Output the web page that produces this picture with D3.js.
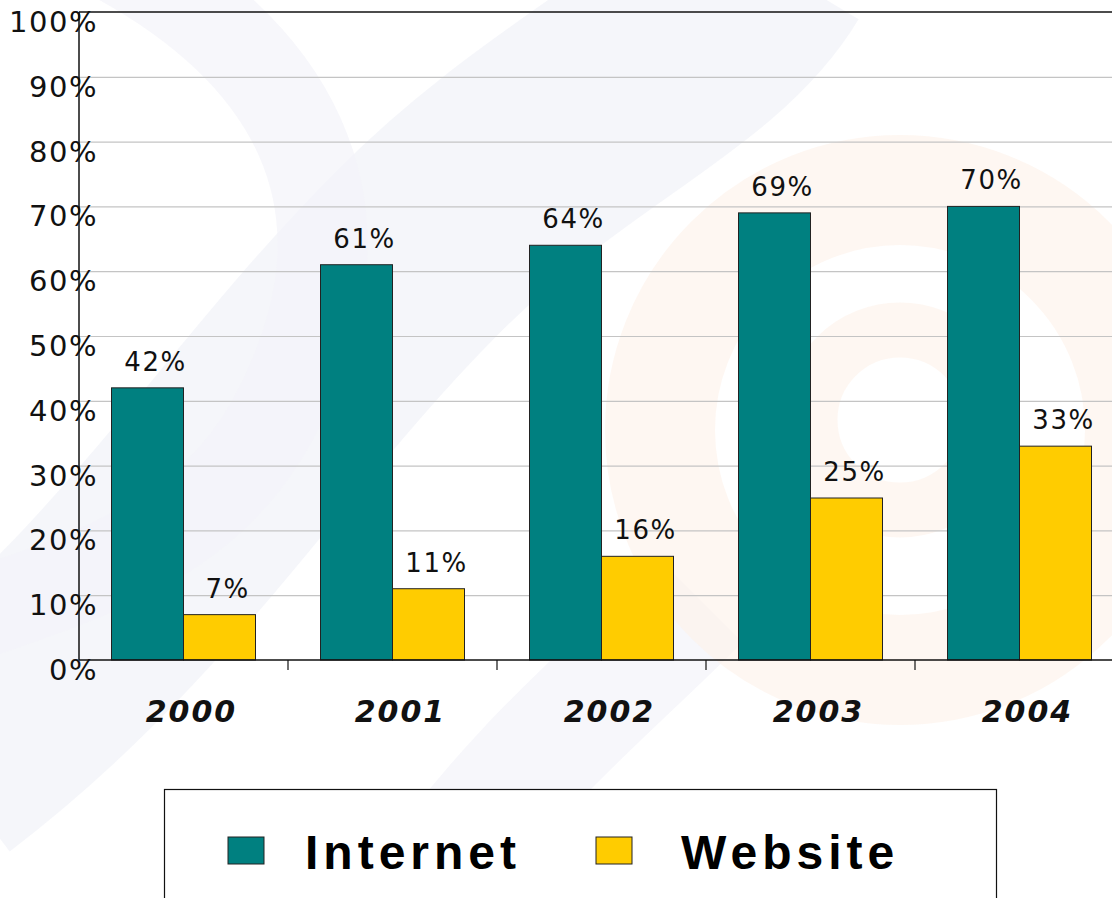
<!DOCTYPE html>
<html>
<head>
<meta charset="utf-8">
<script src="https://cdn.jsdelivr.net/npm/d3@7"></script>
<style>
  html, body { margin: 0; padding: 0; background: #fff; }
  svg { display: block; }
</style>
</head>
<body>
<div id="chart"></div>
<script>
// data
const years = ["2000", "2001", "2002", "2003", "2004"];
const series = ["Internet", "Website"];
const internet = [0.42, 0.61, 0.64, 0.69, 0.70];
const website = [0.07, 0.11, 0.16, 0.25, 0.33];
const yTicks = [0, 0.1, 0.2, 0.3, 0.4, 0.5, 0.6, 0.7, 0.8, 0.9, 1];
const colors = ["#008080", "#FFCC00"];

const width = 1112, height = 898;
const plotLeft = 79, plotRight = 1124, plotTop = 12, plotBottom = 660;

const svg = d3.select("#chart").append("svg")
    .attr("width", width)
    .attr("height", height);

svg.append("rect").attr("width", width).attr("height", height).attr("fill", "#fff");

// faint watermark in the background
const wm = svg.append("g").attr("fill", "none");
wm.append("path")
    .attr("d", "M -60 760 C 150 600, 250 420, 420 250 C 560 110, 700 60, 760 -40")
    .attr("stroke", "#f1f2f8").attr("stroke-width", 230).attr("opacity", 0.7);
wm.append("path")
    .attr("d", "M 120 -40 C 300 60, 360 200, 300 360 C 240 520, 140 560, -40 620")
    .attr("stroke", "#f3f4f9").attr("stroke-width", 90).attr("opacity", 0.7);
wm.append("path")
    .attr("d", "M 420 900 C 520 760, 600 700, 700 600")
    .attr("stroke", "#f3f4f9").attr("stroke-width", 120).attr("opacity", 0.7);
wm.append("circle").attr("cx", 900).attr("cy", 430).attr("r", 240)
    .attr("stroke", "#fdf1ea").attr("stroke-width", 110).attr("opacity", 0.6);
wm.append("circle").attr("cx", 900).attr("cy", 420).attr("r", 90)
    .attr("stroke", "#fdf1ea").attr("stroke-width", 55).attr("opacity", 0.6);

const y = d3.scaleLinear().domain([0, 1]).range([plotBottom, plotTop]);
const x0 = d3.scaleBand().domain(years).range([plotLeft, plotRight]);
const groupW = 144;
const x1 = d3.scaleBand().domain(series)
    .range([(x0.bandwidth() - groupW) / 2, (x0.bandwidth() + groupW) / 2]);

// gridlines
svg.append("g").selectAll("line").data(yTicks.slice(1, -1)).join("line")
    .attr("x1", plotLeft).attr("x2", width)
    .attr("y1", d => y(d) + 0.5).attr("y2", d => y(d) + 0.5)
    .attr("stroke", "#c4c4c4").attr("stroke-width", 1.2);

// top border
svg.append("line")
    .attr("x1", plotLeft).attr("x2", width)
    .attr("y1", y(1)).attr("y2", y(1))
    .attr("stroke", "#111").attr("stroke-width", 1.5);

// bars
const table = years.map((yr, i) => ({year: yr, values: [internet[i], website[i]]}));
const groups = svg.append("g").selectAll("g").data(table).join("g")
    .attr("transform", d => `translate(${x0(d.year)},0)`);

groups.selectAll("rect")
    .data(d => d.values.map((v, j) => ({key: series[j], value: v, color: colors[j]})))
    .join("rect")
    .attr("x", d => x1(d.key))
    .attr("y", d => y(d.value))
    .attr("width", x1.bandwidth())
    .attr("height", d => y(0) - y(d.value))
    .attr("fill", d => d.color)
    .attr("stroke", "#222")
    .attr("stroke-width", 1);

groups.selectAll("text")
    .data(d => d.values.map((v, j) => ({key: series[j], value: v})))
    .join("text")
    .attr("x", d => x1(d.key) + x1.bandwidth() / 2 + 8)
    .attr("y", d => y(d.value) - 17)
    .attr("text-anchor", "middle")
    .style("font-family", "'DejaVu Sans', sans-serif")
    .style("font-size", "26px")
    .style("letter-spacing", "1.5px")
    .attr("fill", "#111")
    .text(d => d3.format(".0%")(d.value));

// y axis line + labels
svg.append("line")
    .attr("x1", plotLeft).attr("x2", plotLeft)
    .attr("y1", y(1)).attr("y2", y(0))
    .attr("stroke", "#111").attr("stroke-width", 1.5);

svg.append("g").selectAll("text").data(yTicks).join("text")
    .attr("x", 98)
    .attr("y", d => y(d) + 20)
    .attr("text-anchor", "end")
    .style("font-family", "'DejaVu Sans', sans-serif")
    .style("font-size", "29px")
    .style("letter-spacing", "1.5px")
    .attr("fill", "#111")
    .text(d => d3.format(".0%")(d));

// x axis
const xAxis = svg.append("g")
    .attr("transform", `translate(0,${y(0)})`)
    .call(d3.axisBottom(x0).tickSize(0).tickPadding(0));
xAxis.select(".domain").attr("stroke", "#111").attr("stroke-width", 1.5)
    .attr("d", `M${plotLeft},0H${width}`);
xAxis.selectAll("text")
    .attr("dy", null)
    .attr("y", 62)
    .attr("dx", 8)
    .style("font-family", "'DejaVu Sans', sans-serif")
    .style("font-size", "30px")
    .style("font-weight", "bold")
    .style("font-style", "italic")
    .style("letter-spacing", "2px")
    .attr("fill", "#111");

// tick marks between categories
svg.append("g").selectAll("line").data(years.slice(1)).join("line")
    .attr("x1", d => x0(d)).attr("x2", d => x0(d))
    .attr("y1", y(0)).attr("y2", y(0) + 10)
    .attr("stroke", "#111").attr("stroke-width", 1.2);

// legend
const legend = svg.append("g");
legend.append("rect")
    .attr("x", 164.5).attr("y", 789.5)
    .attr("width", 832).attr("height", 140)
    .attr("fill", "#fff").attr("stroke", "#111").attr("stroke-width", 1.2);

const items = legend.selectAll("g.item").data(series).join("g")
    .attr("class", "item")
    .attr("transform", (d, i) => `translate(${228 + i * 368},0)`);
items.append("rect")
    .attr("x", 0).attr("y", 837)
    .attr("width", 36).attr("height", 27)
    .attr("fill", (d, i) => colors[i])
    .attr("stroke", "#222").attr("stroke-width", 1);
items.append("text")
    .attr("x", (d, i) => i === 0 ? 77 : 85)
    .attr("y", 869)
    .style("font-family", "'Liberation Sans', Arial, sans-serif")
    .style("font-size", "48px")
    .style("font-weight", "bold")
    .style("letter-spacing", "5px")
    .attr("fill", "#000")
    .text(d => d);
</script>
</body>
</html>
